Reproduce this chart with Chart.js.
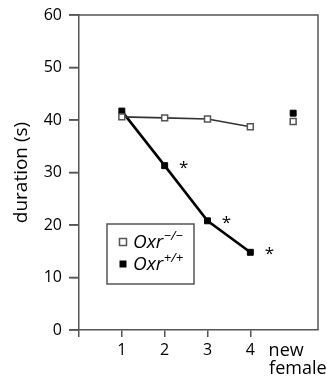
<!DOCTYPE html>
<html><head><meta charset="utf-8">
<script src="https://cdn.jsdelivr.net/npm/chart.js@4"></script>
<style>html,body{margin:0;padding:0;background:#fff}canvas{display:block}</style>
</head><body>
<canvas id="c" width="327" height="378"></canvas>
<script>
// ---- data ----
const categories = ['1', '2', '3', '4', ['  new     ', '  female']];
const knockoutValues = [40.6, 40.4, 40.2, 38.7, 39.7];   // Oxr−/−
const wildtypeValues = [41.7, 31.3, 20.8, 14.8, 41.3];   // Oxr+/+
const significant = [false, true, true, true, false];
const yTicks = [0, 10, 20, 30, 40, 50, 60];
const seriesNames = [{base: 'Oxr', sup: '−/−'}, {base: 'Oxr', sup: '+/+'}];

const AX = '#555';
const FONT = "'Open Sans', sans-serif";
const toPts = arr => arr.map((v, i) => ({x: i + 1, y: v}));
const hideLast = ctx => ctx.p1DataIndex === categories.length - 1;

const overlay = {
  id: 'overlay',
  afterDraw(chart) {
    const {ctx, chartArea: a} = chart;
    const ys = chart.scales.y;
    const meta = chart.getDatasetMeta(1);
    ctx.save();
    // y tick marks + box (top + right)
    ctx.strokeStyle = AX; ctx.lineWidth = 1.5;
    ctx.beginPath();
    ys.ticks.forEach(t => {
      const py = ys.getPixelForValue(t.value);
      ctx.moveTo(a.left - 10, py); ctx.lineTo(a.left, py);
    });
    ctx.moveTo(a.left, a.top); ctx.lineTo(a.right, a.top); ctx.lineTo(a.right, a.bottom);
    ctx.stroke();
    // asterisks
    ctx.fillStyle = '#000';
    ctx.font = '17px ' + FONT;
    ctx.textAlign = 'center'; ctx.textBaseline = 'alphabetic';
    significant.forEach((s, i) => {
      if (!s) return;
      const p = meta.data[i];
      ctx.fillText('*', p.x + 19, p.y - 3 + 10);
    });
    // legend
    const lx = a.left + 28, ly = a.top + 209, lw = 87, lh = 60;
    ctx.fillStyle = '#fff';
    ctx.fillRect(lx, ly, lw, lh);
    ctx.strokeStyle = AX; ctx.lineWidth = 1.5;
    ctx.strokeRect(lx, ly, lw, lh);
    seriesNames.forEach((n, i) => {
      const cy = ly + 18 + i * 22;
      const mx = lx + 16;
      if (i === 0) {
        ctx.fillStyle = '#fff'; ctx.fillRect(mx - 3.5, cy - 3.5, 7, 7);
        ctx.strokeStyle = '#555'; ctx.lineWidth = 1.5; ctx.strokeRect(mx - 3.5, cy - 3.5, 7, 7);
      } else {
        ctx.fillStyle = '#000'; ctx.fillRect(mx - 3.5, cy - 3.5, 7, 7);
      }
      ctx.fillStyle = '#000';
      ctx.textAlign = 'left'; ctx.textBaseline = 'alphabetic';
      ctx.font = 'italic 19px ' + FONT;
      const tx = lx + 26, base = cy + 6;
      ctx.fillText(n.base, tx, base);
      const w = ctx.measureText(n.base).width;
      ctx.font = 'italic 13px ' + FONT;
      ctx.fillText(n.sup, tx + w + 0.5, base - 8);
    });
    ctx.restore();
  }
};

new Chart(document.getElementById('c'), {
  type: 'line',
  data: {
    datasets: [
      {
        label: 'Oxr−/−',
        data: toPts(knockoutValues),
        borderColor: '#333', borderWidth: 1.6,
        pointStyle: 'rect', pointRadius: 4.2,
        pointBackgroundColor: '#fff', pointBorderColor: '#555', pointBorderWidth: 1.5,
        segment: {borderColor: ctx => hideLast(ctx) ? 'transparent' : '#333'}
      },
      {
        label: 'Oxr+/+',
        data: toPts(wildtypeValues),
        borderColor: '#000', borderWidth: 2.6,
        pointStyle: 'rect', pointRadius: 4.2,
        pointBackgroundColor: '#000', pointBorderColor: '#000', pointBorderWidth: 1,
        segment: {borderColor: ctx => hideLast(ctx) ? 'transparent' : '#000'}
      }
    ]
  },
  options: {
    responsive: false,
    animation: false,
    layout: {padding: {top: 15, right: 9, left: 0, bottom: 0}},
    plugins: {legend: {display: false}, tooltip: {enabled: false}},
    scales: {
      x: {
        type: 'linear', min: 0, max: 5.58,
        afterBuildTicks: s => { s.ticks = [0, 1, 2, 3, 4, 5].map(v => ({value: v})); },
        afterFit: s => { s.height = 48; s.paddingRight = 0; s.paddingLeft = 0; },
        ticks: {
          autoSkip: false, maxRotation: 0, padding: 4,
          color: '#000',
          font: c => (c.tick && c.tick.value === 5)
            ? {family: FONT, size: 18, lineHeight: 1.05}
            : {family: FONT, size: 16, lineHeight: 1.2},
          callback: v => v >= 1 && v <= categories.length ? categories[v - 1] : ''
        },
        grid: {
          drawOnChartArea: false, drawTicks: true, tickLength: 7, lineWidth: 1.5,
          tickColor: c => (c.tick && c.tick.value === 5) ? 'transparent' : AX
        },
        border: {color: AX, width: 1.5}
      },
      y: {
        min: 0, max: 60,
        afterBuildTicks: s => { s.ticks = yTicks.map(v => ({value: v})); },
        afterFit: s => { s.width = 79; s.paddingTop = 0; s.paddingBottom = 0; },
        ticks: {color: '#000', font: {family: FONT, size: 16}, padding: 7},
        grid: {drawOnChartArea: false, drawTicks: true, tickLength: 10, lineWidth: 1.5, tickColor: AX},
        border: {color: AX, width: 1.5},
        title: {display: true, text: 'duration (s)', color: '#000',
                font: {family: FONT, size: 19}, padding: {top: 10, bottom: 0}}
      }
    }
  },
  plugins: [overlay]
});
</script>
</body></html>
